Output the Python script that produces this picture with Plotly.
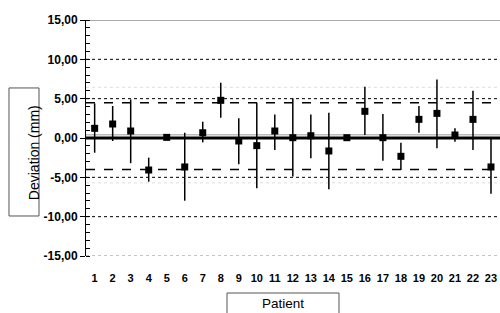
import plotly.graph_objects as go

patients = list(range(1, 24))
deviation = [1.23, 1.78, 0.89, -4.07, 0.08, -3.68, 0.67, 4.79, -0.38, -0.97, 0.89, 0.04,
             0.29, -1.65, 0.04, 3.39, 0.04, -2.33, 2.37, 3.13, 0.38, 2.37, -3.68]
upper = [4.40, 4.07, 4.90, -2.50, 0.08, 0.67, 2.07, 7.03, 2.50, 4.49, 3.00, 5.04,
         3.00, 3.20, 0.04, 6.52, 3.05, -0.60, 4.07, 7.45, 1.23, 6.00, -0.04]
lower = [-1.87, -0.38, -3.20, -5.55, 0.08, -7.97, -0.55, 2.58, -3.34, -6.40, -1.52, -4.90,
         -2.58, -6.50, 0.04, 0.38, -2.88, -4.07, 0.67, -1.31, -0.47, -1.52, -7.10]

y_tickvals = [-15, -10, -5, 0, 5, 10, 15]
y_ticktext = ["-15,00", "-10,00", "-5,00", "0,00", "5,00", "10,00", "15,00"]

upper_limit = 4.48
lower_limit = -4.0
mean_line = 0.4
faint_upper = 6.45
faint_lower = -5.7

err_plus = [u - d for u, d in zip(upper, deviation)]
err_minus = [d - l for d, l in zip(deviation, lower)]

fig = go.Figure()
fig.add_trace(go.Scatter(
    x=patients, y=deviation, mode="markers",
    marker=dict(symbol="square", size=7, color="black"),
    error_y=dict(type="data", symmetric=False, array=err_plus, arrayminus=err_minus,
                 color="black", thickness=1.5, width=0),
    showlegend=False, hoverinfo="skip",
))

def hline(y, color, width, dash):
    fig.add_shape(type="line", xref="paper", x0=0, x1=1, yref="y", y0=y, y1=y,
                  line=dict(color=color, width=width, dash=dash), layer="below")

hline(15, "#aaaaaa", 2, "solid")
hline(10, "black", 1, "dot")
hline(-10, "black", 1, "dot")
hline(5, "black", 1, "dot")
hline(-5, "black", 1, "dot")
hline(-15, "#888888", 1, "dot")
hline(faint_upper, "#dddddd", 1, "dot")
hline(faint_lower, "#dddddd", 1, "dot")
hline(upper_limit, "black", 1.5, "dash")
hline(lower_limit, "black", 1.5, "dash")
hline(mean_line, "#999999", 1, "solid")
hline(0, "black", 3, "solid")

# axis title boxes
fig.add_shape(type="rect", xref="paper", yref="paper",
              x0=-0.186, x1=-0.1135, y0=0.1695, y1=0.712,
              line=dict(color="#555555", width=1))
fig.add_annotation(xref="paper", yref="paper", x=-0.1498, y=0.44,
                   text="Deviation (mm)", textangle=-90, showarrow=False,
                   font=dict(family="Liberation Sans, Arial", size=14, color="black"))
fig.add_shape(type="rect", xref="paper", yref="paper",
              x0=0.3406, x1=0.6111, y0=-0.30, y1=-0.1568,
              line=dict(color="#555555", width=1))
fig.add_annotation(xref="paper", yref="paper", x=0.4758, y=-0.165, yanchor="top",
                   text="Patient", showarrow=False, borderpad=0,
                   font=dict(family="Liberation Sans, Arial", size=13.5, color="black"))

fig.update_layout(
    width=500, height=313,
    margin=dict(l=86, r=0, t=20, b=57, pad=0),
    paper_bgcolor="white", plot_bgcolor="white",
    font=dict(family="Liberation Sans, Arial", color="black"),
    xaxis=dict(range=[0.52, 23.5], tickvals=patients, ticktext=[str(p) for p in patients],
               showgrid=False, zeroline=False, showline=False, ticks="",
               ticklabelstandoff=14, automargin=False,
               tickfont=dict(family="Liberation Sans, Arial", size=11, color="black", weight="bold")),
    yaxis=dict(range=[-15, 15], tickvals=y_tickvals, ticktext=y_ticktext,
               showgrid=False, zeroline=False, showline=True, linecolor="black", linewidth=1,
               ticks="outside", ticklen=5, tickcolor="black", automargin=False,
               minor=dict(ticks="inside", dtick=1, ticklen=4, tickcolor="black", showgrid=False),
               tickfont=dict(family="Liberation Sans, Arial", size=12, color="black", weight="bold")),
)

fig.write_html("out.html", config={"displayModeBar": False},
               post_script="document.body.style.margin='0';document.body.style.overflow='hidden';")
